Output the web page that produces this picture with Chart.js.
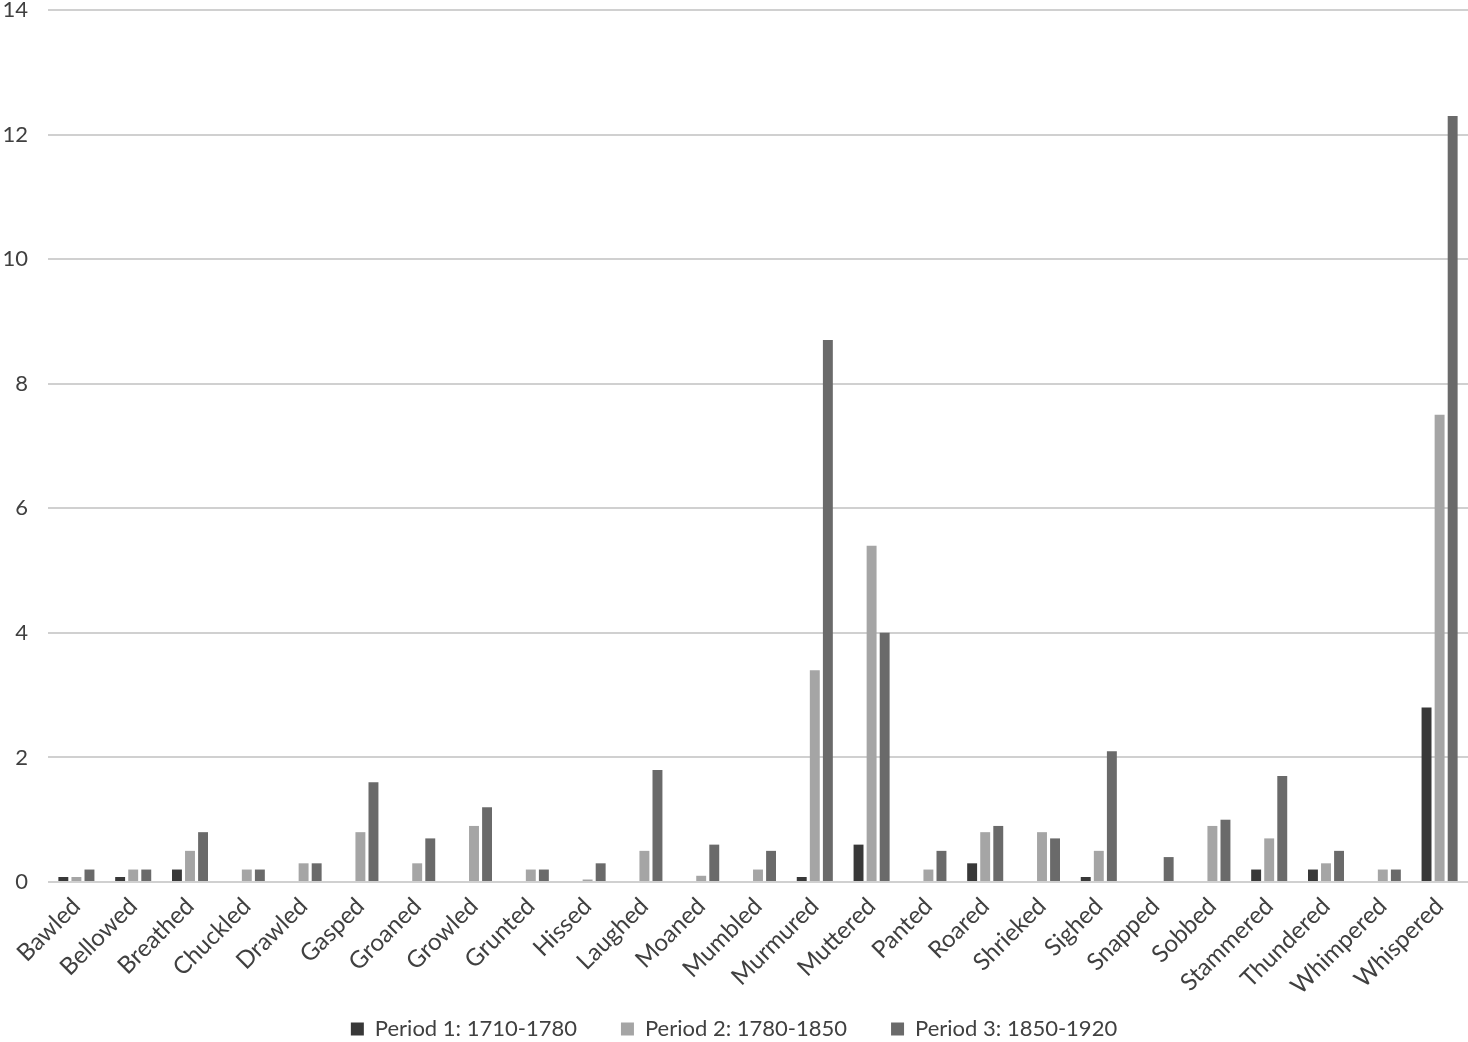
<!DOCTYPE html>
<html>
<head>
<meta charset="utf-8">
<script src="https://cdn.jsdelivr.net/npm/chart.js@4"></script>
<style>
  html, body { margin: 0; padding: 0; background: #fff; }
  #wrap { width: 1468px; height: 1042px; }
</style>
</head>
<body>
<div id="wrap"><canvas id="chart"></canvas></div>
<script>
// verbs on the x axis
const verbs = ['Bawled', 'Bellowed', 'Breathed', 'Chuckled', 'Drawled', 'Gasped', 'Groaned', 'Growled',
  'Grunted', 'Hissed', 'Laughed', 'Moaned', 'Mumbled', 'Murmured', 'Muttered', 'Panted', 'Roared',
  'Shrieked', 'Sighed', 'Snapped', 'Sobbed', 'Stammered', 'Thundered', 'Whimpered', 'Whispered'];

// one array per period
const period1 = [0.08, 0.08, 0.2, 0, 0, 0, 0, 0, 0, 0, 0, 0, 0, 0.08, 0.6, 0, 0.3, 0, 0.08, 0, 0, 0.2, 0.2, 0, 2.8];
const period2 = [0.08, 0.2, 0.5, 0.2, 0.3, 0.8, 0.3, 0.9, 0.2, 0.04, 0.5, 0.1, 0.2, 3.4, 5.4, 0.2, 0.8, 0.8, 0.5, 0, 0.9, 0.7, 0.3, 0.2, 7.5];
const period3 = [0.2, 0.2, 0.8, 0.2, 0.3, 1.6, 0.7, 1.2, 0.2, 0.3, 1.8, 0.6, 0.5, 8.7, 4.0, 0.5, 0.9, 0.7, 2.1, 0.4, 1.0, 1.7, 0.5, 0.2, 12.3];

const seriesNames = ['Period 1: 1710-1780', 'Period 2: 1780-1850', 'Period 3: 1850-1920'];
const yTicks = [0, 2, 4, 6, 8, 10, 12, 14];

const fontFamily = 'Lato, "Open Sans", sans-serif';

new Chart(document.getElementById('chart'), {
  type: 'bar',
  data: {
    labels: verbs,
    datasets: [
      { label: seriesNames[0], data: period1, backgroundColor: '#383838' },
      { label: seriesNames[1], data: period2, backgroundColor: '#a5a5a5' },
      { label: seriesNames[2], data: period3, backgroundColor: '#6a6a6a' }
    ]
  },
  options: {
    responsive: true,
    maintainAspectRatio: false,
    animation: false,
    datasets: {
      bar: { categoryPercentage: 0.69, barPercentage: 0.76 }
    },
    layout: { padding: { top: 10, right: 0, left: 0, bottom: -8 } },
    plugins: {
      legend: {
        position: 'bottom',
        labels: {
          font: { family: fontFamily, size: 22 },
          color: '#404040',
          boxWidth: 13,
          boxHeight: 13,
          padding: 44
        }
      },
      tooltip: { enabled: false }
    },
    scales: {
      x: {
        grid: { display: false },
        border: { display: false },
        afterFit: function(scale) {
          scale.height = 92;
          // let the rotated labels run past the axis box
          scale._computeLabelArea = function() { return undefined; };
        },
        ticks: {
          font: { family: fontFamily, size: 24 },
          color: '#404040',
          minRotation: 45,
          maxRotation: 45,
          autoSkip: false,
          padding: 2
        }
      },
      y: {
        min: 0,
        max: 14,
        afterFit: function(scale) {
          scale.width = 48;
          scale.paddingTop = 0;
          scale.paddingBottom = 0;
        },
        afterBuildTicks: function(scale) {
          scale.ticks = yTicks.map(v => ({ value: v }));
        },
        grid: { color: '#d0d0d0', lineWidth: 2, drawTicks: false },
        border: { display: false },
        ticks: {
          font: { family: fontFamily, size: 22 },
          color: '#404040',
          padding: 20
        }
      }
    }
  }
});
</script>
</body>
</html>
